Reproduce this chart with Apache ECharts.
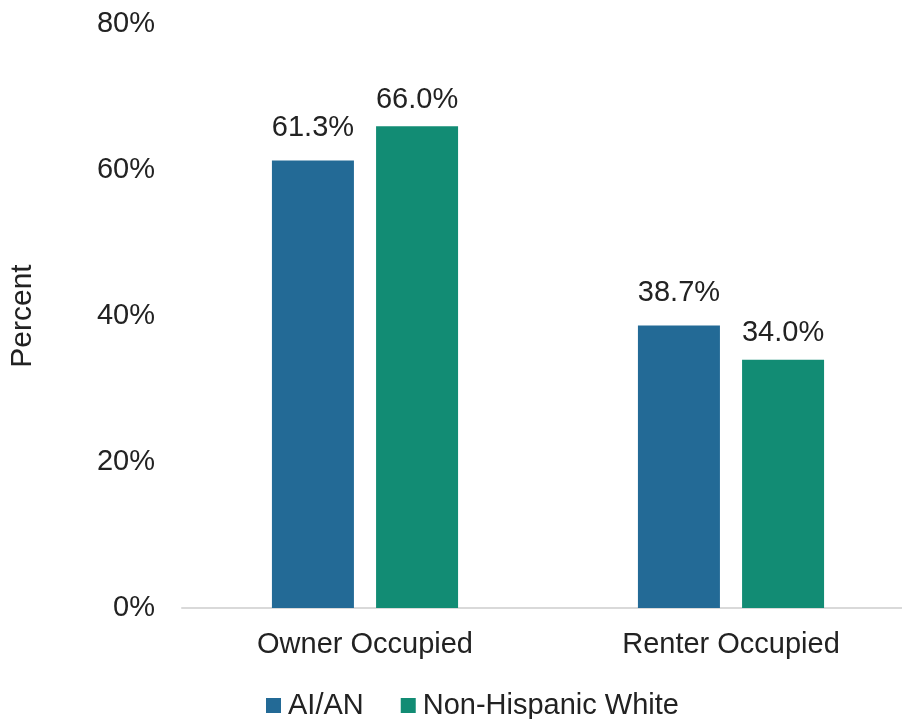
<!DOCTYPE html>
<html>
<head>
<meta charset="utf-8">
<script src="https://cdn.jsdelivr.net/npm/echarts@6/dist/echarts.min.js"></script>
<style>
  html, body { margin: 0; padding: 0; background: #fff; }
  #chart { width: 902px; height: 719px; }
</style>
</head>
<body>
<div id="chart"></div>
<script>
// Datos del gráfico
const categories = ['Owner Occupied', 'Renter Occupied'];
const seriesNames = ['AI/AN', 'Non-Hispanic White'];
const aianValues = [61.3, 38.7];
const whiteValues = [66.0, 34.0];
const yTicks = [0, 20, 40, 60, 80];

const colors = ['#236a96', '#128c74'];
const fontFamily = '"Liberation Sans", Arial, sans-serif';

const myChart = echarts.init(document.getElementById('chart'));

function barLabel(distance) {
    return {
        show: true,
        position: 'top',
        distance: distance,
        color: '#222',
        fontSize: 29,
        fontFamily: fontFamily,
        formatter: function(p) {
            return p.value.toFixed(1) + '%';
        }
    };
}

const option = {
    animation: false,
    backgroundColor: '#fff',
    grid: {
        left: 182,
        top: 24,
        width: 732,
        height: 584,
        outerBoundsMode: 'none'
    },
    legend: {
        bottom: -6,
        left: 261,
        itemWidth: 15,
        itemHeight: 15,
        itemGap: 37,
        icon: 'rect',
        textStyle: {
            color: '#222',
            fontSize: 29,
            fontFamily: fontFamily,
            padding: [0, 0, 0, 2]
        },
        data: seriesNames
    },
    xAxis: {
        type: 'category',
        data: categories,
        axisLine: { lineStyle: { color: '#d9d9d9', width: 2 } },
        axisTick: { show: false },
        axisLabel: {
            color: '#222',
            fontSize: 29,
            fontFamily: fontFamily,
            margin: 22
        }
    },
    yAxis: {
        type: 'value',
        min: yTicks[0],
        max: yTicks[yTicks.length - 1],
        interval: 20,
        name: 'Percent',
        nameLocation: 'middle',
        nameGap: 144,
        nameRotate: 90,
        nameTextStyle: {
            color: '#222',
            fontSize: 30,
            fontFamily: fontFamily
        },
        axisLine: { show: false },
        axisTick: { show: false },
        splitLine: { show: false },
        axisLabel: {
            color: '#222',
            fontSize: 29,
            fontFamily: fontFamily,
            margin: 27,
            formatter: '{value}%'
        }
    },
    series: [
        {
            name: seriesNames[0],
            type: 'bar',
            data: aianValues,
            barWidth: 82,
            barGap: '27%',
            itemStyle: { color: colors[0] },
            label: barLabel(18)
        },
        {
            name: seriesNames[1],
            type: 'bar',
            data: whiteValues,
            barWidth: 82,
            itemStyle: { color: colors[1] },
            label: barLabel(12)
        }
    ]
};

myChart.setOption(option);
</script>
</body>
</html>
